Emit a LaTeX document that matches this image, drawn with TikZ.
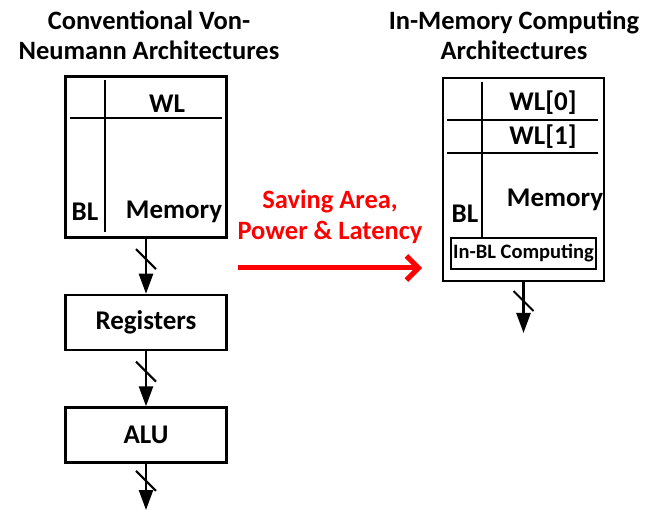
\documentclass[tikz,border=0pt]{standalone}
\usepackage{fontspec}
\setmainfont{Carlito}
\usetikzlibrary{arrows.meta, positioning, decorations.markings}
\definecolor{gainred}{HTML}{FF0000}
\newcommand{\labelfont}{\fontsize{27}{30}\selectfont\bfseries}
\tikzset{
  blockbox/.style={draw, line width=2.5pt, minimum width=161pt, align=center, font=\labelfont},
  bus/.style={line width=2.5pt, -{Triangle[length=20pt, width=14pt]},
    postaction={decorate, decoration={markings,
      mark=at position 0.37 with {\draw[-, line width=2pt] (-10pt,-10pt) -- (10pt,10pt);}}}},
  gridline/.style={line width=2.5pt}
}

\begin{document}
\begin{tikzpicture}[x=1pt, y=-1pt]
  \useasboundingbox (0,0) rectangle (645,510);

  % titles
  \node[align=center, font=\fontsize{26.5}{30}\selectfont\bfseries] (titleL) at (149,35)
    {Conventional Von-\\Neumann Architectures};
  \node[align=center, font=\fontsize{26.5}{30}\selectfont\bfseries] (titleR) at (514,35)
    {In-Memory Computing\\Architectures};

  % conventional side
  \node[blockbox, minimum height=161pt] (memL) at (146,157) {};
  \draw[gridline] (105,80) -- (105,232);
  \draw[gridline] (70,118) -- (222,118);
  \node[font=\labelfont] (wlL) at (167,104) {WL};
  \node[font=\labelfont] (blL) at (85,212) {BL};
  \node[font=\labelfont] (memtxtL) at (174,212) {Memory};

  \node[blockbox, minimum height=55pt, below=55pt of memL] (regs) {Registers};
  \node[blockbox, minimum height=55pt, below=55pt of regs] (alu) {ALU};
  \coordinate (aluOut) at (146,510);

  \draw[bus] (memL) -- (regs);
  \draw[bus] (regs) -- (alu);
  \draw[bus] (alu) -- (aluOut);

  % in-memory side
  \node[blockbox, minimum height=203pt] (memR) at (523.5,179.5) {};
  \draw[gridline] (482,82) -- (482,237);
  \draw[gridline] (447,120) -- (598,120);
  \draw[gridline] (447,153) -- (598,153);
  \node[font=\labelfont] (wl0) at (543,103) {WL[0]};
  \node[font=\labelfont] (wl1) at (543,137) {WL[1]};
  \node[font=\labelfont] (memtxtR) at (555,200) {Memory};
  \node[font=\labelfont] (blR) at (465,214) {BL};
  \node[draw, line width=2pt, minimum width=145pt, minimum height=31pt, inner sep=0pt,
        font=\fontsize{20.5}{22}\selectfont\bfseries] (inbl) at (523.5,253.5) {In-BL Computing};
  \coordinate (memOut) at (523.5,333);
  \draw[bus] (memR) -- (memOut);

  % gain arrow
  \node[align=center, text=gainred, font=\fontsize{26.5}{31}\selectfont\bfseries] (gain) at (330,217)
    {Saving Area,\\Power \& Latency};
  \coordinate (gainS) at (238,268);
  \coordinate (gainE) at (422,268);
  \draw[gainred, line width=5pt, -{Straight Barb[length=12pt, width=24pt]}] (gainS) -- (gainE);
\end{tikzpicture}
\end{document}
